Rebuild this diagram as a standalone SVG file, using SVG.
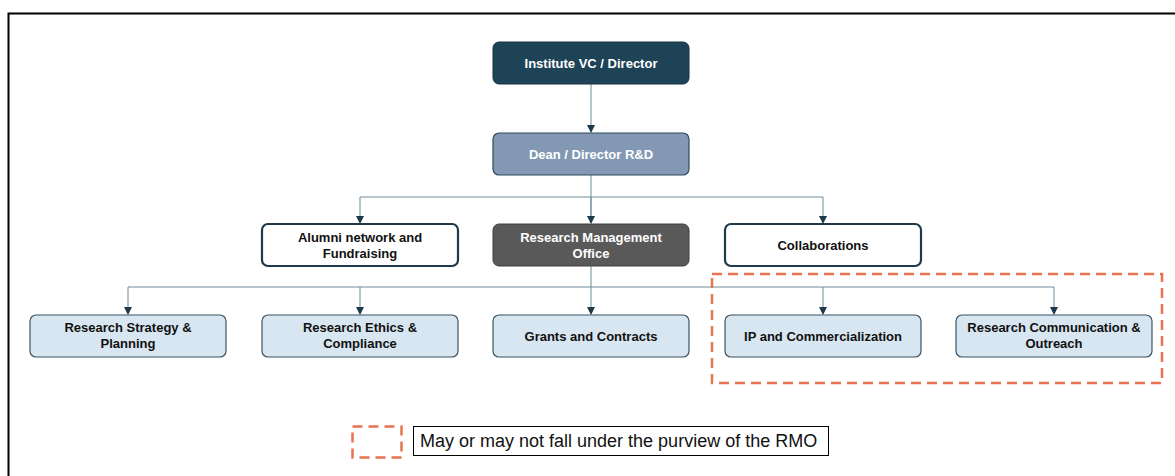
<svg xmlns="http://www.w3.org/2000/svg" width="1175" height="476" viewBox="0 0 1175 476">
<style>
.t{font-family:"Liberation Sans",Arial,sans-serif;font-size:13px;font-weight:bold;text-anchor:middle;fill:#111;}
.tw{fill:#fff;}
.leaf{fill:#d7e6f0;stroke:#3b5363;stroke-width:1.2;}
.open{fill:#fff;stroke:#1e3a4a;stroke-width:2.2;}
.c{fill:none;stroke:#6f8a99;stroke-width:1;}
.dash{fill:none;stroke:#e8744f;stroke-width:2.5;stroke-dasharray:10 6;}
</style>
<defs>
<marker id="ah" viewBox="0 0 8 8" refX="7" refY="4" markerWidth="8" markerHeight="8" markerUnits="userSpaceOnUse" orient="auto">
<path d="M0,0 L8,4 L0,8 Z" fill="#1e3a4a"/>
</marker>
</defs>
<rect width="1175" height="476" fill="#fff"/>
<path d="M8.5,476 V13.5 H1175" fill="none" stroke="#000" stroke-width="2"/>
<g id="connectors">
<path class="c" d="M591,84 V132" marker-end="url(#ah)"/>
<path class="c" d="M591,175 V223"/>
<path class="c" d="M360,197 H823"/>
<path class="c" d="M360,197 V223" marker-end="url(#ah)"/>
<path class="c" d="M591,197 V223" marker-end="url(#ah)"/>
<path class="c" d="M823,197 V223" marker-end="url(#ah)"/>
<path class="c" d="M591,266 V314" marker-end="url(#ah)"/>
<path class="c" d="M128,287 H1054"/>
<path class="c" d="M128,287 V314" marker-end="url(#ah)"/>
<path class="c" d="M360,287 V314" marker-end="url(#ah)"/>
<path class="c" d="M823,287 V314" marker-end="url(#ah)"/>
<path class="c" d="M1054,287 V314" marker-end="url(#ah)"/>
</g>
<g id="vc">
<rect x="493" y="42" width="196" height="42" rx="6" fill="#1e4256" stroke="#163242" stroke-width="1"/>
<text class="t tw" x="591" y="67.5">Institute VC / Director</text>
</g>
<g id="dean">
<rect x="493" y="133" width="196" height="42" rx="6" fill="#8399b3" stroke="#2f4a5c" stroke-width="1.2"/>
<text class="t tw" x="591" y="158.5">Dean / Director R&amp;D</text>
</g>
<g id="alumni">
<rect class="open" x="262" y="224" width="196" height="42" rx="6"/>
<text class="t" x="360" y="242">Alumni network and</text>
<text class="t" x="360" y="258">Fundraising</text>
</g>
<g id="rmo">
<rect x="493" y="224" width="196" height="42" rx="6" fill="#595959" stroke="#3f3f3f" stroke-width="1"/>
<text class="t tw" x="591" y="242">Research Management</text>
<text class="t tw" x="591" y="258">Office</text>
</g>
<g id="collab">
<rect class="open" x="725" y="224" width="196" height="42" rx="6"/>
<text class="t" x="823" y="249.5">Collaborations</text>
</g>
<g id="strategy">
<rect class="leaf" x="30" y="315" width="196" height="42" rx="6"/>
<text class="t" x="128" y="332">Research Strategy &amp;</text>
<text class="t" x="128" y="348">Planning</text>
</g>
<g id="ethics">
<rect class="leaf" x="262" y="315" width="196" height="42" rx="6"/>
<text class="t" x="360" y="332">Research Ethics &amp;</text>
<text class="t" x="360" y="348">Compliance</text>
</g>
<g id="grants">
<rect class="leaf" x="493" y="315" width="196" height="42" rx="6"/>
<text class="t" x="591" y="340.5">Grants and Contracts</text>
</g>
<g id="ip">
<rect class="leaf" x="725" y="315" width="196" height="42" rx="6"/>
<text class="t" x="823" y="340.5">IP and Commercialization</text>
</g>
<g id="comm">
<rect class="leaf" x="956" y="315" width="196" height="42" rx="6"/>
<text class="t" x="1054" y="332">Research Communication &amp;</text>
<text class="t" x="1054" y="348">Outreach</text>
</g>
<g id="optional-region">
<rect class="dash" x="712" y="274" width="450" height="109"/>
</g>
<g id="legend">
<rect class="dash" x="352.5" y="426.5" width="49" height="31"/>
<rect x="413.5" y="426.5" width="415" height="29" fill="#fff" stroke="#000" stroke-width="1"/>
<text x="420" y="447" font-family="'Liberation Sans',Arial,sans-serif" font-size="18" fill="#111">May or may not fall under the purview of the RMO</text>
</g>
</svg>
